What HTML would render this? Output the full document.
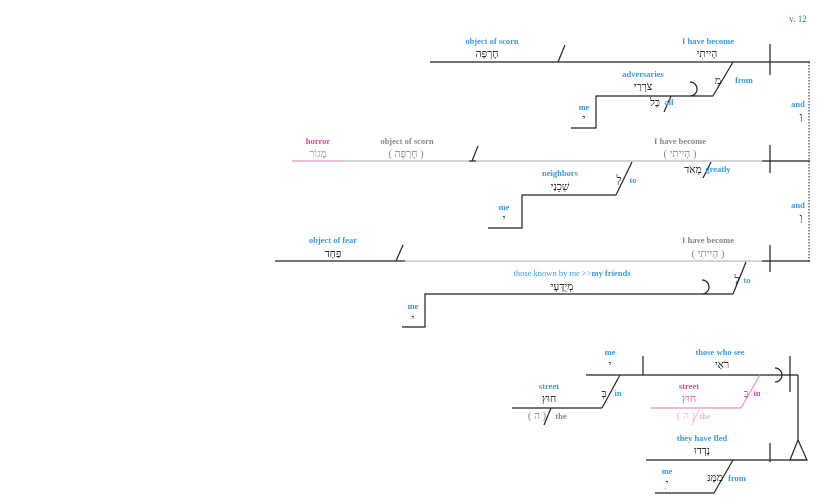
<!DOCTYPE html>
<html><head><meta charset="utf-8"><style>
html,body{margin:0;padding:0;background:#fff;width:825px;height:502px;overflow:hidden}
svg{display:block}
text{font-family:"Liberation Serif","DejaVu Serif",serif;text-anchor:middle}
.l{fill:#3a9ad9;font-size:8.5px;font-weight:bold}
.g{fill:#888;font-size:8.5px;font-weight:bold}
.p{fill:#e0449a;font-size:8.5px;font-weight:bold}
.h{fill:#111;font-size:10.5px}
.hg{fill:#888;font-size:10.5px}
</style></head><body>
<svg width="825" height="502" viewBox="0 0 825 502" fill="none" stroke-width="1.2">
<text x="798" y="22" style="fill:#2a8a2a;font-size:9px">v. 12</text>

<!-- clause 1 -->
<g stroke="#222">
<line x1="430" y1="62" x2="810" y2="62"/>
<line x1="770" y1="44" x2="770" y2="75"/>
<line x1="558" y1="62" x2="565" y2="45"/>
<line x1="733" y1="62" x2="713" y2="96"/>
<polyline points="571,128 596,128 596,96 713,96"/>
<path d="M690,82 A7,7 0 0 1 690,96"/>
<line x1="671" y1="96" x2="664" y2="112"/>
</g>
<text class="l" x="492" y="44">object of scorn</text>
<text class="h" x="487" y="57">חֶרְפָּה</text>
<text class="l" x="708" y="44">I have become</text>
<text class="h" x="707" y="57">הָיִיתִי</text>
<text class="h" x="718" y="84">מִ</text><text class="l" x="744" y="83">from</text>
<text class="l" x="643" y="77">adversaries</text>
<text class="h" x="643" y="90">צֹרְרַי</text>
<text class="h" x="655" y="106">כָּל</text><text class="l" x="669" y="105">all</text>
<text class="l" x="584" y="110">me</text>
<text class="h" x="584" y="122">י</text>
<line x1="809" y1="62" x2="809" y2="261" stroke="#444" stroke-dasharray="1.5,1.5"/>
<text class="l" x="798" y="107">and</text><text class="h" x="801" y="120">וְ</text>
<text class="l" x="798" y="208">and</text><text class="h" x="801" y="221">וְ</text>

<!-- clause 2 -->
<line x1="292" y1="161" x2="342" y2="161" stroke="#e890c4"/>
<line x1="342" y1="161" x2="762" y2="161" stroke="#bbb"/>
<line x1="762" y1="161" x2="810" y2="161" stroke="#222"/>
<g stroke="#222">
<line x1="770" y1="145" x2="770" y2="173"/>
<line x1="472" y1="161" x2="478" y2="146"/>
<line x1="469" y1="161" x2="476" y2="161"/>
<line x1="711" y1="162" x2="703" y2="178"/>
<line x1="632" y1="162" x2="616" y2="195"/>
<polyline points="488,228 522,228 522,195 616,195"/>
</g>
<text class="p" x="318" y="144">horror</text>
<text class="hg" x="318" y="157" style="fill:#9a8fe0">מָגוֹר</text>
<text class="g" x="407" y="144">object of scorn</text>
<text class="hg" x="406" y="157">( חֶרְפָּה )</text>
<text class="g" x="680" y="144">I have become</text>
<text class="hg" x="680" y="157">( הָיִיתִי )</text>
<text class="h" x="693" y="173">מְאֹד</text><text class="l" x="718" y="172">greatly</text>
<text class="h" x="619" y="183">לְ</text><text class="l" x="633" y="183">to</text>
<text class="l" x="560" y="176">neighbors</text>
<text class="h" x="560" y="190">שְׁכֵנַי</text>
<text class="l" x="504" y="210">me</text>
<text class="h" x="504" y="222">י</text>

<!-- clause 3 -->
<line x1="275" y1="261" x2="405" y2="261" stroke="#222"/>
<line x1="405" y1="261" x2="762" y2="261" stroke="#bbb"/>
<line x1="762" y1="261" x2="810" y2="261" stroke="#222"/>
<g stroke="#222">
<line x1="770" y1="245" x2="770" y2="272"/>
<line x1="396" y1="261" x2="403" y2="245"/>
<line x1="746" y1="262" x2="733" y2="294"/>
<polyline points="402,327 425,327 425,294 733,294"/>
<path d="M702,280 A7,7 0 0 1 702,294"/>
</g>
<text class="l" x="333" y="243">object of fear</text>
<text class="h" x="333" y="257">פַּחַד</text>
<text class="g" x="708" y="243">I have become</text>
<text class="hg" x="708" y="257">( הָיִיתִי )</text>
<text class="h" x="737" y="283">לְ</text><text class="l" x="747" y="283">to</text>
<text x="572" y="276" style="fill:#3a9ad9;font-size:8.5px">those known by me &gt;&gt;<tspan font-weight="bold">my friends</tspan></text>
<text class="h" x="562" y="290">מְיֻדָּעָי</text>
<text class="l" x="413" y="309">me</text>
<text class="h" x="413" y="322">י</text>

<!-- clause 4 -->
<g stroke="#222">
<line x1="586" y1="375" x2="798" y2="375"/>
<line x1="643" y1="356" x2="643" y2="375"/>
<line x1="790" y1="356" x2="790" y2="392"/>
<path d="M775,368 A7,7 0 0 1 775,382"/>
<line x1="620" y1="375" x2="602" y2="408"/>
<line x1="512" y1="408" x2="602" y2="408"/>
<line x1="551" y1="408" x2="544" y2="425"/>
<line x1="798" y1="375" x2="798" y2="440"/>
<polygon points="798,440 790,460 807,460"/>
</g>
<text class="l" x="610" y="355">me</text>
<text class="h" x="610" y="368">י</text>
<text class="l" x="720" y="355">those who see</text>
<text class="h" x="722" y="368">רֹאַי</text>
<text class="h" x="604" y="397">בְּ</text><text class="l" x="618" y="396">in</text>
<text class="l" x="549" y="389">street</text>
<text class="h" x="549" y="402">חוּץ</text>
<text class="hg" x="537" y="419">( ה )</text><text class="g" x="561" y="419">the</text>
<g stroke="#e890c4">
<line x1="760" y1="375" x2="741" y2="408"/>
<line x1="651" y1="408" x2="741" y2="408"/>
</g>
<line x1="700" y1="408" x2="692" y2="425" stroke="#f4c4dc"/>
<text class="h" x="746" y="397" style="fill:#e0449a">בַּ</text><text class="p" x="757" y="396">in</text>
<text class="p" x="689" y="389">street</text>
<text class="h" x="689" y="402" style="fill:#e0449a">חוּץ</text>
<text x="686" y="419" style="fill:#f4b4d4;font-size:10.5px">( ה )</text><text x="705" y="419" style="fill:#f4b4d4;font-size:8.5px;font-weight:bold">the</text>

<!-- clause 5 -->
<g stroke="#222">
<line x1="646" y1="460" x2="807" y2="460"/>
<line x1="770" y1="443" x2="770" y2="462"/>
<line x1="733" y1="460" x2="714" y2="493"/>
<line x1="655" y1="493" x2="714" y2="493"/>
</g>
<text class="l" x="702" y="441">they have fled</text>
<text class="h" x="702" y="454">נָדְדוּ</text>
<text class="h" x="715" y="481">מִמֶּנּ</text><text class="l" x="737" y="481">from</text>
<text class="l" x="667" y="474">me</text>
<text class="h" x="667" y="487">ִי</text>
</svg>
</body></html>
